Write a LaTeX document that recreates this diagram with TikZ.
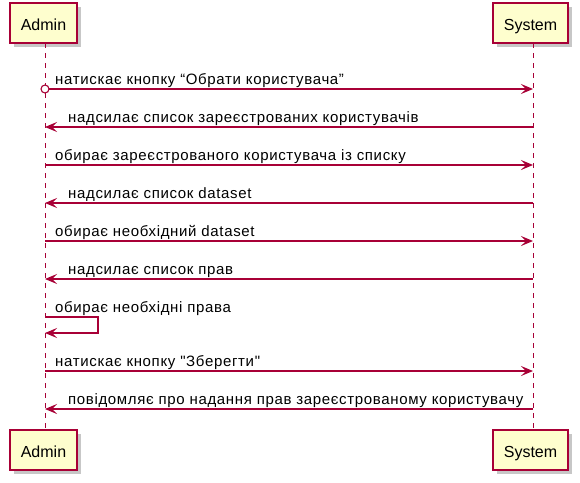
\documentclass[tikz,border=0pt]{standalone}
\usepackage{fontspec}
\setmainfont{Liberation Sans}
\newfontfamily\msgfont[LetterSpace=4.4]{Liberation Sans}
\usetikzlibrary{arrows.meta}
\definecolor{pborder}{HTML}{A80036}
\definecolor{pfill}{HTML}{FEFECE}
\tikzset{
  part/.style={draw=pborder, line width=1.5pt, fill=pfill, minimum width=#1, minimum height=40pt, inner sep=0pt, font=\fontsize{16pt}{18pt}\selectfont, text=black, text height=14pt, text depth=0pt},
  shadowbox/.style={fill=black!22, draw=none},
  life/.style={draw=pborder, line width=0.8pt, dash pattern=on 5pt off 5pt},
  msg/.style={draw=pborder, line width=1.1pt, -{Stealth[length=12pt,width=10pt,inset=5pt]}},
  lbl/.style={font=\msgfont\fontsize{15pt}{17pt}\selectfont, anchor=base west, inner sep=0pt, text=black}
}
\begin{document}
\begin{tikzpicture}[x=1pt,y=-1pt]
\useasboundingbox (0,0) rectangle (580,482);
\fill[white] (0,0) rectangle (580,482);
% shadows
\fill[shadowbox] (14,7) rectangle (81,47);
\fill[shadowbox] (497,7) rectangle (572,47);
\fill[shadowbox] (14,434) rectangle (81,474);
\fill[shadowbox] (497,434) rectangle (572,474);
% lifelines
\coordinate (at) at (45,43);
\coordinate (ab) at (45,430);
\coordinate (st) at (533,43);
\coordinate (sb) at (533,430);
\draw[life] (at) -- (ab);
\draw[life] (st) -- (sb);
% participants
\node[part=67pt] (A1) at (43.5,23) {Admin};
\node[part=75pt] (S1) at (530.5,23) {System};
\node[part=67pt] (A2) at (43.5,450) {Admin};
\node[part=75pt] (S2) at (530.5,450) {System};
% message coordinates
\foreach \i/\y in {1/89,2/127,3/165,4/203,5/241,6/279,8/371,9/409}{
  \coordinate (a\i) at (45,\y);
  \coordinate (s\i) at (533,\y);
}
\coordinate (a7t) at (45,317);
\coordinate (r7t) at (98,317);
\coordinate (r7b) at (98,333);
\coordinate (a7b) at (45,333);
% circle start
\draw[pborder, line width=1.1pt, fill=white] (a1) circle (4);
\draw[msg] ([xshift=4pt]a1) -- (s1);
\node[lbl] at (55,84) {натискає кнопку “Обрати користувача”};
\draw[msg] (s2) -- (a2);
\node[lbl] at (68,122) {надсилає список зареєстрованих користувачів};
\draw[msg] (a3) -- (s3);
\node[lbl] at (55,160) {обирає зареєстрованого користувача із списку};
\draw[msg] (s4) -- (a4);
\node[lbl] at (68,198) {надсилає список dataset};
\draw[msg] (a5) -- (s5);
\node[lbl] at (55,236) {обирає необхідний dataset};
\draw[msg] (s6) -- (a6);
\node[lbl] at (68,274) {надсилає список прав};
\draw[msg] (a7t) -- (r7t) -- (r7b) -- (a7b);
\node[lbl] at (55,312) {обирає необхідні права};
\draw[msg] (a8) -- (s8);
\node[lbl] at (55,366) {натискає кнопку "Зберегти"};
\draw[msg] (s9) -- (a9);
\node[lbl] at (68,404) {повідомляє про надання прав зареєстрованому користувачу};
\end{tikzpicture}
\end{document}
